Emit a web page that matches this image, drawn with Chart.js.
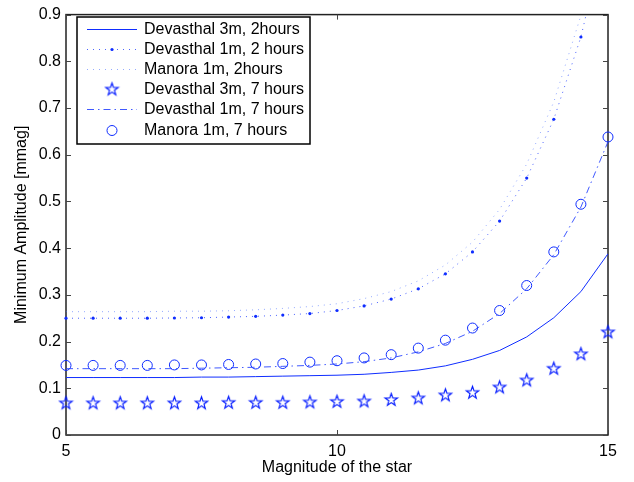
<!DOCTYPE html>
<html><head><meta charset="utf-8">
<script src="https://cdn.jsdelivr.net/npm/chart.js@4"></script>
<style>html,body{margin:0;padding:0;background:#fff}canvas{display:block}</style>
</head><body>
<canvas id="c" width="634" height="482"></canvas>
<script>
const magnitudes   = [5,5.5,6,6.5,7,7.5,8,8.5,9,9.5,10,10.5,11,11.5,12,12.5,13,13.5,14,14.5,15];
const devasthal3m2h = [0.123,0.123,0.123,0.123,0.123,0.124,0.124,0.125,0.126,0.127,0.128,0.130,0.134,0.139,0.148,0.162,0.181,0.210,0.251,0.307,0.388];
const devasthal1m2h = [0.250,0.250,0.250,0.250,0.2505,0.251,0.2525,0.254,0.2567,0.260,0.2665,0.2764,0.291,0.313,0.345,0.392,0.458,0.550,0.676,0.852,1.10];
const manora1m2h    = [0.264,0.264,0.264,0.264,0.265,0.265,0.266,0.268,0.271,0.275,0.281,0.292,0.307,0.330,0.364,0.413,0.483,0.580,0.713,0.898,1.16];
const devasthal3m7h = [0.069,0.069,0.069,0.069,0.069,0.069,0.070,0.070,0.070,0.071,0.072,0.073,0.076,0.0795,0.086,0.0914,0.103,0.118,0.143,0.174,0.221];
const devasthal1m7h = [0.142,0.142,0.142,0.142,0.142,0.143,0.144,0.145,0.147,0.149,0.152,0.157,0.165,0.178,0.196,0.222,0.260,0.313,0.386,0.488,0.628];
const manora1m7h    = [0.149,0.149,0.149,0.149,0.150,0.150,0.151,0.152,0.153,0.156,0.159,0.165,0.172,0.186,0.203,0.229,0.2665,0.320,0.392,0.494,0.638];
const seriesLabels = ['Devasthal 3m, 2hours','Devasthal 1m, 2 hours','Manora 1m, 2hours','Devasthal 3m, 7 hours','Devasthal 1m, 7 hours','Manora 1m, 7 hours'];
const yTicks = [0,0.1,0.2,0.3,0.4,0.5,0.6,0.7,0.8,0.9];
const xTicks = [5,10,15];

const blue = 'rgb(15,45,255)';
const pts = arr => magnitudes.map((m,i)=>({x:m,y:arr[i]}));

function makeStar(){
  const c=document.createElement('canvas'); c.width=17; c.height=17;
  const g=c.getContext('2d'); g.strokeStyle='rgb(0,25,255)'; g.lineWidth=1.15; g.lineJoin='miter'; g.beginPath();
  const R=6.5, r=2.6, cx=8.5, cy=9;
  for(let i=0;i<10;i++){
    const a=-Math.PI/2+i*Math.PI/5, rad=i%2===0?R:r;
    const px=cx+rad*Math.cos(a), py=cy+rad*Math.sin(a);
    if(i) g.lineTo(px,py); else g.moveTo(px,py);
  }
  g.closePath(); g.stroke(); return c;
}
const starImg = makeStar();

Chart.defaults.font.family = '"Liberation Sans", Arial, Helvetica, sans-serif';
Chart.defaults.font.size = 16;
Chart.defaults.color = '#000';

const framePlugin = {
  id:'frame',
  beforeDatasetsDraw(chart){
    const {ctx, chartArea:a, scales:{x,y}} = chart;
    ctx.save();
    ctx.strokeStyle='#222'; ctx.lineWidth=1.5;
    ctx.strokeRect(a.left, a.top, a.right-a.left, a.bottom-a.top);
    ctx.lineWidth=1; ctx.strokeStyle='#444'; ctx.beginPath();
    const L=5;
    yTicks.forEach(v=>{const p=Math.round(y.getPixelForValue(v))+0.5;
      ctx.moveTo(a.left,p);ctx.lineTo(a.left+L,p);ctx.moveTo(a.right,p);ctx.lineTo(a.right-L,p);});
    xTicks.forEach(v=>{const p=Math.round(x.getPixelForValue(v))+0.5;
      ctx.moveTo(p,a.bottom);ctx.lineTo(p,a.bottom-L);ctx.moveTo(p,a.top);ctx.lineTo(p,a.top+L);});
    ctx.stroke(); ctx.restore();
  }
};

const legendPlugin = {
  id:'boxLegend',
  afterDraw(chart){
    const ctx=chart.ctx;
    const bx=77, by=17, bw=233, bh=127;
    ctx.save();
    ctx.fillStyle='#fff'; ctx.fillRect(bx,by,bw,bh);
    ctx.strokeStyle='#000'; ctx.lineWidth=1.5; ctx.strokeRect(bx,by,bw,bh);
    ctx.font='16px "Liberation Sans", Arial, sans-serif';
    ctx.textBaseline='middle';
    chart.data.datasets.forEach((ds,i)=>{
      const yy = Math.round(29 + i*20.1)+0.5;
      if(ds.showLine!==false){
        ctx.strokeStyle=ds.borderColor; ctx.lineWidth=ds.borderWidth;
        ctx.setLineDash(ds.borderDash||[]); ctx.beginPath(); ctx.moveTo(87,yy); ctx.lineTo(137,yy); ctx.stroke(); ctx.setLineDash([]);
      }
      if(ds.pointRadius>0){
        if(ds.pointStyle===starImg){ ctx.drawImage(starImg,112-8.5,yy-9); }
        else if(ds.showLine===false){ ctx.strokeStyle=blue; ctx.lineWidth=1; ctx.beginPath(); ctx.arc(112,yy,ds.pointRadius,0,Math.PI*2); ctx.stroke(); }
        else { ctx.fillStyle=blue; ctx.beginPath(); ctx.arc(112,yy,ds.pointRadius,0,Math.PI*2); ctx.fill(); }
      }
      ctx.fillStyle='#000';
      ctx.fillText(ds.label, 144, yy);
    });
    ctx.restore();
  }
};

new Chart(document.getElementById('c'), {
  type:'line',
  data:{ datasets:[
    {label:seriesLabels[0], data:pts(devasthal3m2h), borderColor:blue, borderWidth:1, pointRadius:0, tension:0},
    {label:seriesLabels[1], data:pts(devasthal1m2h), borderColor:'rgba(30,60,255,0.8)', borderWidth:1, borderDash:[1,5],
      pointStyle:'circle', pointRadius:1.6, pointBackgroundColor:blue, pointBorderWidth:0, clip:{left:4,right:4,top:0,bottom:4}},
    {label:seriesLabels[2], data:pts(manora1m2h), borderColor:'rgba(60,100,255,0.55)', borderWidth:1, borderDash:[1,5], pointRadius:0},
    {label:seriesLabels[3], data:pts(devasthal3m7h), showLine:false, pointStyle:starImg, pointRadius:6, clip:false},
    {label:seriesLabels[4], data:pts(devasthal1m7h), borderColor:'rgba(30,60,255,0.85)', borderWidth:1, borderDash:[7,4,1.5,4], pointRadius:0},
    {label:seriesLabels[5], data:pts(manora1m7h), showLine:false, pointStyle:'circle', pointRadius:5,
      pointBorderColor:blue, pointBackgroundColor:'rgba(0,0,0,0)', pointBorderWidth:1, clip:false}
  ]},
  options:{
    responsive:false, animation:false, events:[],
    layout:{padding:{top:7,right:26,left:0,bottom:0}},
    plugins:{legend:{display:false}, tooltip:{enabled:false}},
    scales:{
      x:{type:'linear', min:5, max:15,
        afterFit(s){s.height=47;},
        afterBuildTicks(s){s.ticks=xTicks.map(v=>({value:v}));},
        grid:{display:false, drawTicks:false}, border:{display:false},
        ticks:{padding:7, color:'#000', callback:v=>String(v)},
        title:{display:true, text:'Magnitude of the star', color:'#000', padding:{top:0,bottom:5}}},
      y:{min:0, max:0.9,
        afterFit(s){s.width=66;},
        afterBuildTicks(s){s.ticks=yTicks.map(v=>({value:v}));},
        grid:{display:false, drawTicks:false}, border:{display:false},
        ticks:{padding:5, color:'#000', callback:v=> v===0?'0':Number(v).toFixed(1)},
        title:{display:true, text:'Minimum Amplitude [mmag]', color:'#000', padding:{top:12,bottom:0}}}
    }
  },
  plugins:[framePlugin, legendPlugin]
});
</script>
</body></html>
